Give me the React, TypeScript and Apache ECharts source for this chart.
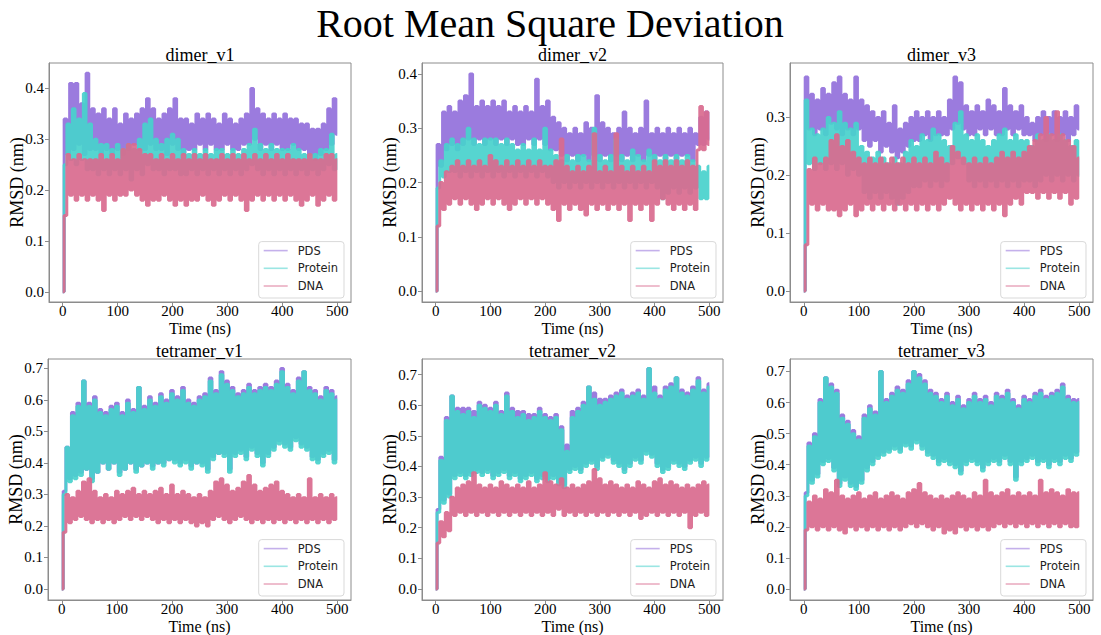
import React, { useEffect, useRef } from "react";
import * as echarts from "echarts";

const T = [0,5,10,15,20,25,30,35,40,45,50,55,60,65,70,75,80,85,90,95,100,105,110,115,120,125,130,135,140,145,150,155,160,165,170,175,180,185,190,195,200,205,210,215,220,225,230,235,240,245,250,255,260,265,270,275,280,285,290,295,300,305,310,315,320,325,330,335,340,345,350,355,360,365,370,375,380,385,390,395,400,405,410,415,420,425,430,435,440,445,450,455,460,465,470,475,480,485,490,495,500];

const X_TICKS = [0, 100, 200, 300, 400, 500];
const Y_TICKS_DIMER = [0, 0.1, 0.2, 0.3, 0.4];
const Y_TICKS_DIMER3 = [0, 0.1, 0.2, 0.3];
const Y_TICKS_TETRA = [0, 0.1, 0.2, 0.3, 0.4, 0.5, 0.6, 0.7];

const SERIES_NAMES = ["PDS", "Protein", "DNA"];
const PANEL_TITLES = ["dimer_v1", "dimer_v2", "dimer_v3", "tetramer_v1", "tetramer_v2", "tetramer_v3"];

// dimer_v1
const d1Pds = [0,
0.34,0.27,0.41,0.28,0.41,0.29,0.37,0.27,0.43,0.28,
0.36,0.28,0.35,0.27,0.36,0.28,0.34,0.27,0.36,0.28,
0.33,0.27,0.35,0.28,0.34,0.29,0.35,0.28,0.36,0.28,
0.38,0.29,0.36,0.28,0.34,0.28,0.35,0.27,0.36,0.29,
0.38,0.28,0.34,0.27,0.34,0.28,0.33,0.28,0.35,0.29,
0.34,0.28,0.35,0.29,0.34,0.28,0.33,0.28,0.35,0.29,
0.34,0.28,0.33,0.28,0.34,0.29,0.35,0.29,0.40,0.30,
0.36,0.28,0.35,0.29,0.34,0.28,0.35,0.29,0.34,0.28,
0.35,0.28,0.34,0.29,0.34,0.28,0.33,0.28,0.33,0.27,
0.32,0.26,0.32,0.27,0.33,0.28,0.36,0.29,0.38,0.31];
const d1Protein = [0,
0.25,0.33,0.26,0.36,0.25,0.34,0.26,0.39,0.24,0.33,
0.24,0.30,0.23,0.29,0.24,0.29,0.23,0.28,0.24,0.29,
0.23,0.28,0.24,0.29,0.22,0.28,0.24,0.30,0.23,0.33,
0.25,0.34,0.24,0.30,0.24,0.29,0.23,0.30,0.24,0.31,
0.24,0.30,0.23,0.28,0.23,0.27,0.24,0.28,0.23,0.27,
0.24,0.28,0.23,0.27,0.24,0.28,0.23,0.28,0.24,0.27,
0.23,0.28,0.24,0.27,0.23,0.28,0.24,0.29,0.25,0.32,
0.24,0.29,0.23,0.28,0.24,0.29,0.23,0.28,0.24,0.28,
0.23,0.28,0.24,0.29,0.23,0.28,0.24,0.27,0.23,0.27,
0.24,0.27,0.23,0.28,0.24,0.28,0.25,0.31,0.24,0.27];
const d1Dna = [0,
0.15,0.27,0.19,0.26,0.18,0.27,0.19,0.26,0.18,0.26,
0.19,0.26,0.18,0.27,0.16,0.26,0.19,0.27,0.18,0.26,
0.19,0.28,0.19,0.29,0.20,0.29,0.19,0.28,0.18,0.27,
0.17,0.27,0.18,0.26,0.18,0.27,0.19,0.26,0.18,0.27,
0.17,0.26,0.18,0.27,0.17,0.26,0.18,0.27,0.18,0.26,
0.19,0.27,0.18,0.26,0.17,0.26,0.18,0.27,0.19,0.26,
0.18,0.27,0.19,0.26,0.18,0.27,0.16,0.26,0.18,0.27,
0.19,0.26,0.18,0.27,0.19,0.26,0.18,0.27,0.19,0.26,
0.18,0.27,0.19,0.26,0.18,0.26,0.17,0.26,0.18,0.27,
0.19,0.26,0.17,0.26,0.18,0.27,0.19,0.27,0.18,0.26];

// dimer_v2
const d2Pds = [0,
0.27,0.23,0.33,0.26,0.34,0.27,0.33,0.26,0.35,0.27,
0.36,0.28,0.40,0.27,0.34,0.28,0.35,0.27,0.34,0.28,
0.35,0.27,0.34,0.28,0.35,0.27,0.33,0.28,0.34,0.27,
0.33,0.27,0.34,0.28,0.33,0.27,0.39,0.28,0.34,0.27,
0.35,0.26,0.32,0.26,0.31,0.25,0.30,0.24,0.29,0.25,
0.30,0.24,0.29,0.25,0.31,0.24,0.30,0.25,0.36,0.24,
0.31,0.25,0.30,0.24,0.29,0.25,0.30,0.24,0.33,0.25,
0.30,0.24,0.29,0.25,0.30,0.24,0.35,0.25,0.29,0.24,
0.30,0.25,0.29,0.24,0.30,0.25,0.29,0.24,0.30,0.25,
0.29,0.25,0.30,0.24,0.29,0.27,0.32,0.27,0.33,0.28];
const d2Protein = [0,
0.19,0.24,0.21,0.27,0.22,0.28,0.22,0.27,0.21,0.28,
0.22,0.30,0.21,0.28,0.22,0.27,0.21,0.28,0.22,0.28,
0.21,0.28,0.22,0.27,0.21,0.28,0.22,0.27,0.21,0.26,
0.22,0.27,0.21,0.26,0.22,0.28,0.21,0.26,0.22,0.30,
0.21,0.26,0.20,0.25,0.19,0.24,0.20,0.25,0.19,0.24,
0.20,0.25,0.19,0.25,0.20,0.24,0.19,0.30,0.20,0.25,
0.19,0.24,0.20,0.25,0.19,0.28,0.20,0.25,0.19,0.24,
0.20,0.26,0.19,0.25,0.20,0.24,0.19,0.26,0.20,0.25,
0.19,0.24,0.17,0.25,0.18,0.24,0.19,0.25,0.18,0.24,
0.19,0.25,0.18,0.24,0.19,0.23,0.17,0.22,0.17,0.23];
const d2Dna = [0,
0.12,0.20,0.15,0.22,0.16,0.23,0.17,0.24,0.16,0.23,
0.17,0.24,0.16,0.23,0.15,0.24,0.16,0.23,0.17,0.25,
0.16,0.24,0.17,0.23,0.16,0.24,0.15,0.23,0.16,0.24,
0.17,0.23,0.16,0.24,0.17,0.23,0.16,0.24,0.17,0.23,
0.16,0.23,0.15,0.24,0.13,0.28,0.16,0.23,0.15,0.22,
0.16,0.23,0.15,0.22,0.14,0.23,0.16,0.29,0.15,0.22,
0.16,0.23,0.15,0.22,0.16,0.29,0.15,0.23,0.16,0.22,
0.13,0.23,0.16,0.22,0.15,0.23,0.16,0.22,0.13,0.24,
0.16,0.23,0.17,0.24,0.16,0.23,0.15,0.24,0.16,0.23,
0.15,0.24,0.16,0.23,0.15,0.26,0.34,0.26,0.33,0.27];

// dimer_v3
const d3Pds = [0,
0.37,0.28,0.34,0.27,0.33,0.28,0.35,0.27,0.34,0.29,
0.36,0.28,0.37,0.27,0.34,0.28,0.33,0.27,0.37,0.28,
0.33,0.26,0.32,0.25,0.31,0.26,0.30,0.24,0.31,0.25,
0.29,0.24,0.32,0.23,0.28,0.24,0.29,0.25,0.30,0.26,
0.31,0.26,0.30,0.27,0.31,0.26,0.30,0.27,0.31,0.27,
0.30,0.27,0.33,0.28,0.37,0.29,0.36,0.28,0.32,0.27,
0.31,0.27,0.32,0.28,0.31,0.27,0.33,0.28,0.32,0.27,
0.31,0.27,0.35,0.28,0.32,0.27,0.31,0.28,0.32,0.27,
0.30,0.27,0.29,0.26,0.30,0.27,0.31,0.26,0.30,0.27,
0.31,0.26,0.30,0.27,0.31,0.26,0.30,0.27,0.32,0.28];
const d3Protein = [0,
0.33,0.22,0.28,0.21,0.27,0.22,0.28,0.21,0.30,0.22,
0.29,0.21,0.31,0.22,0.29,0.20,0.28,0.21,0.29,0.20,
0.25,0.17,0.24,0.16,0.23,0.17,0.24,0.16,0.23,0.17,
0.22,0.16,0.23,0.15,0.22,0.16,0.24,0.17,0.26,0.18,
0.25,0.18,0.27,0.19,0.26,0.18,0.28,0.19,0.27,0.18,
0.26,0.19,0.25,0.22,0.29,0.23,0.31,0.22,0.27,0.19,
0.26,0.18,0.27,0.19,0.26,0.18,0.25,0.19,0.26,0.18,
0.27,0.19,0.28,0.18,0.26,0.19,0.27,0.18,0.26,0.19,
0.26,0.19,0.25,0.18,0.27,0.19,0.26,0.20,0.27,0.19,
0.26,0.20,0.27,0.19,0.26,0.20,0.25,0.19,0.26,0.20];
const d3Dna = [0,
0.08,0.21,0.15,0.23,0.14,0.22,0.15,0.23,0.14,0.26,
0.14,0.27,0.13,0.25,0.14,0.26,0.15,0.24,0.13,0.23,
0.14,0.22,0.15,0.23,0.14,0.22,0.15,0.23,0.14,0.22,
0.15,0.23,0.14,0.22,0.15,0.23,0.14,0.22,0.15,0.23,
0.14,0.22,0.15,0.23,0.14,0.22,0.15,0.24,0.14,0.23,
0.15,0.22,0.16,0.25,0.15,0.24,0.14,0.23,0.15,0.22,
0.14,0.23,0.15,0.22,0.14,0.23,0.15,0.22,0.14,0.23,
0.15,0.24,0.13,0.23,0.15,0.24,0.16,0.23,0.15,0.24,
0.17,0.25,0.17,0.26,0.16,0.27,0.17,0.30,0.16,0.27,
0.17,0.31,0.16,0.27,0.17,0.26,0.15,0.25,0.16,0.23];

// tetramer_v1
const t1Pds = [0,
0.31,0.45,0.35,0.56,0.36,0.59,0.37,0.66,0.38,0.59,
0.35,0.61,0.37,0.57,0.40,0.56,0.38,0.58,0.40,0.59,
0.37,0.56,0.38,0.60,0.40,0.57,0.38,0.64,0.39,0.58,
0.40,0.61,0.39,0.59,0.40,0.62,0.40,0.60,0.41,0.63,
0.41,0.61,0.40,0.64,0.41,0.60,0.39,0.59,0.40,0.61,
0.40,0.62,0.38,0.67,0.42,0.63,0.43,0.69,0.43,0.66,
0.38,0.64,0.43,0.62,0.44,0.63,0.42,0.65,0.45,0.63,
0.43,0.64,0.40,0.65,0.43,0.64,0.45,0.66,0.47,0.70,
0.46,0.65,0.45,0.63,0.48,0.67,0.46,0.69,0.45,0.64,
0.42,0.63,0.41,0.61,0.43,0.64,0.44,0.63,0.41,0.61];
const t1Protein = [0,
0.30,0.45,0.34,0.55,0.35,0.58,0.36,0.66,0.38,0.58,
0.34,0.60,0.37,0.56,0.40,0.55,0.38,0.57,0.40,0.58,
0.36,0.55,0.38,0.59,0.40,0.56,0.37,0.64,0.39,0.57,
0.40,0.60,0.38,0.58,0.40,0.61,0.39,0.59,0.41,0.62,
0.40,0.60,0.39,0.63,0.40,0.59,0.38,0.58,0.40,0.60,
0.39,0.61,0.37,0.66,0.41,0.62,0.43,0.68,0.42,0.65,
0.37,0.63,0.42,0.61,0.43,0.62,0.41,0.64,0.44,0.62,
0.42,0.63,0.39,0.64,0.42,0.63,0.44,0.65,0.46,0.69,
0.45,0.64,0.44,0.62,0.47,0.66,0.45,0.69,0.44,0.63,
0.41,0.62,0.40,0.60,0.42,0.63,0.43,0.62,0.40,0.60];
const t1Dna = [0,
0.18,0.30,0.21,0.29,0.22,0.31,0.23,0.34,0.22,0.35,
0.21,0.31,0.22,0.29,0.21,0.30,0.22,0.29,0.21,0.31,
0.22,0.30,0.23,0.31,0.22,0.32,0.23,0.30,0.22,0.31,
0.23,0.30,0.22,0.31,0.21,0.32,0.22,0.30,0.21,0.33,
0.22,0.30,0.21,0.31,0.22,0.30,0.21,0.29,0.20,0.30,
0.21,0.29,0.20,0.31,0.22,0.34,0.23,0.35,0.22,0.33,
0.21,0.31,0.22,0.32,0.23,0.34,0.22,0.36,0.21,0.33,
0.22,0.31,0.21,0.32,0.22,0.33,0.21,0.34,0.22,0.31,
0.21,0.30,0.22,0.29,0.21,0.30,0.22,0.29,0.21,0.35,
0.22,0.29,0.21,0.30,0.22,0.29,0.21,0.30,0.22,0.29];

// tetramer_v2
const t2Pds = [0,
0.26,0.43,0.29,0.56,0.31,0.63,0.37,0.59,0.38,0.59,
0.37,0.59,0.38,0.58,0.39,0.61,0.38,0.60,0.39,0.59,
0.37,0.61,0.38,0.58,0.39,0.64,0.37,0.59,0.38,0.58,
0.36,0.58,0.37,0.57,0.38,0.57,0.36,0.59,0.37,0.57,
0.36,0.56,0.37,0.57,0.35,0.53,0.34,0.47,0.39,0.58,
0.40,0.59,0.39,0.61,0.41,0.66,0.42,0.64,0.40,0.62,
0.43,0.62,0.44,0.63,0.42,0.64,0.41,0.65,0.39,0.63,
0.41,0.64,0.43,0.65,0.42,0.63,0.45,0.72,0.44,0.66,
0.41,0.63,0.39,0.66,0.40,0.67,0.42,0.69,0.41,0.65,
0.40,0.64,0.42,0.66,0.43,0.69,0.41,0.65,0.43,0.67];
const t2Protein = [0,
0.25,0.42,0.28,0.55,0.30,0.63,0.36,0.58,0.37,0.57,
0.36,0.58,0.37,0.56,0.38,0.60,0.37,0.59,0.38,0.58,
0.36,0.60,0.37,0.57,0.38,0.63,0.36,0.58,0.37,0.56,
0.35,0.57,0.36,0.55,0.37,0.56,0.35,0.58,0.36,0.56,
0.35,0.55,0.36,0.56,0.34,0.52,0.33,0.45,0.38,0.56,
0.39,0.58,0.38,0.60,0.40,0.66,0.41,0.62,0.39,0.60,
0.42,0.61,0.43,0.62,0.41,0.63,0.40,0.64,0.38,0.62,
0.40,0.63,0.42,0.64,0.41,0.62,0.44,0.72,0.43,0.64,
0.40,0.62,0.38,0.65,0.39,0.66,0.41,0.69,0.40,0.64,
0.39,0.63,0.41,0.65,0.42,0.68,0.40,0.64,0.42,0.66];
const t2Dna = [0,
0.15,0.22,0.17,0.25,0.19,0.30,0.24,0.33,0.25,0.34,
0.24,0.35,0.25,0.38,0.24,0.34,0.25,0.33,0.24,0.34,
0.25,0.33,0.24,0.35,0.25,0.34,0.24,0.33,0.25,0.34,
0.24,0.33,0.25,0.35,0.24,0.33,0.25,0.34,0.24,0.38,
0.25,0.35,0.24,0.34,0.26,0.36,0.24,0.33,0.25,0.34,
0.24,0.33,0.25,0.34,0.24,0.35,0.25,0.39,0.24,0.36,
0.25,0.34,0.24,0.35,0.25,0.34,0.24,0.33,0.25,0.34,
0.24,0.33,0.25,0.35,0.23,0.34,0.24,0.33,0.25,0.35,
0.24,0.36,0.25,0.34,0.24,0.35,0.25,0.34,0.24,0.33,
0.25,0.34,0.20,0.33,0.24,0.34,0.25,0.35,0.24,0.34];

// tetramer_v3
const t3Pds = [0,
0.31,0.47,0.35,0.50,0.37,0.61,0.41,0.68,0.42,0.66,
0.39,0.64,0.34,0.56,0.36,0.54,0.34,0.51,0.33,0.49,
0.35,0.56,0.39,0.59,0.41,0.57,0.43,0.70,0.44,0.61,
0.45,0.63,0.46,0.65,0.45,0.64,0.47,0.67,0.46,0.70,
0.48,0.69,0.46,0.67,0.44,0.64,0.43,0.63,0.41,0.61,
0.42,0.63,0.41,0.60,0.40,0.62,0.38,0.59,0.41,0.61,
0.42,0.63,0.41,0.61,0.39,0.62,0.41,0.60,0.42,0.63,
0.41,0.62,0.43,0.64,0.41,0.61,0.36,0.59,0.41,0.62,
0.42,0.61,0.43,0.63,0.41,0.64,0.42,0.62,0.40,0.63,
0.42,0.64,0.41,0.66,0.43,0.62,0.42,0.61,0.44,0.61];
const t3Protein = [0,
0.30,0.46,0.34,0.49,0.36,0.60,0.40,0.68,0.41,0.65,
0.38,0.63,0.33,0.55,0.35,0.53,0.33,0.50,0.32,0.48,
0.34,0.55,0.38,0.58,0.40,0.56,0.42,0.70,0.43,0.60,
0.44,0.62,0.45,0.64,0.44,0.63,0.46,0.66,0.45,0.70,
0.47,0.68,0.45,0.66,0.43,0.63,0.42,0.62,0.40,0.60,
0.41,0.62,0.40,0.59,0.39,0.61,0.37,0.58,0.40,0.60,
0.41,0.62,0.40,0.60,0.38,0.61,0.40,0.59,0.41,0.62,
0.40,0.61,0.42,0.63,0.40,0.60,0.35,0.58,0.40,0.61,
0.41,0.60,0.42,0.62,0.40,0.63,0.41,0.61,0.39,0.62,
0.41,0.63,0.40,0.65,0.42,0.61,0.41,0.60,0.43,0.60];
const t3Dna = [0,
0.19,0.28,0.20,0.30,0.19,0.29,0.20,0.32,0.19,0.31,
0.20,0.35,0.19,0.30,0.18,0.29,0.20,0.30,0.19,0.31,
0.20,0.29,0.19,0.30,0.20,0.31,0.19,0.29,0.20,0.30,
0.19,0.31,0.20,0.30,0.19,0.29,0.20,0.31,0.21,0.32,
0.20,0.34,0.21,0.31,0.20,0.30,0.19,0.29,0.20,0.30,
0.18,0.29,0.19,0.30,0.18,0.31,0.20,0.30,0.19,0.29,
0.20,0.31,0.19,0.30,0.20,0.35,0.19,0.31,0.20,0.30,
0.21,0.31,0.20,0.32,0.21,0.30,0.20,0.31,0.21,0.30,
0.20,0.31,0.21,0.30,0.20,0.35,0.21,0.31,0.20,0.32,
0.21,0.31,0.20,0.30,0.21,0.32,0.20,0.31,0.20,0.31];

const PANEL_SERIES = [
  [d1Pds, d1Protein, d1Dna],
  [d2Pds, d2Protein, d2Dna],
  [d3Pds, d3Protein, d3Dna],
  [t1Pds, t1Protein, t1Dna],
  [t2Pds, t2Protein, t2Dna],
  [t3Pds, t3Protein, t3Dna],
];
const PANEL_YTICKS = [Y_TICKS_DIMER, Y_TICKS_DIMER, Y_TICKS_DIMER3, Y_TICKS_TETRA, Y_TICKS_TETRA, Y_TICKS_TETRA];

// layout (pixels) and axis extents
const LAYOUT = [
  { left: 49, top: 63, width: 302, height: 239, ymin: -0.02, ymax: 0.45 },
  { left: 422, top: 63, width: 301, height: 239, ymin: -0.02, ymax: 0.42 },
  { left: 790, top: 63, width: 303, height: 239, ymin: -0.019, ymax: 0.394 },
  { left: 48, top: 359, width: 303, height: 241, ymin: -0.035, ymax: 0.73 },
  { left: 422, top: 359, width: 301, height: 241, ymin: -0.036, ymax: 0.751 },
  { left: 790, top: 359, width: 303, height: 241, ymin: -0.035, ymax: 0.74 },
];

const COLORS = ["#9370DB", "#48D1CC", "#D96A8E"];
const SERIF = "Liberation Serif";
const SANS = "DejaVu Sans";
const FRAME = "#8c8c8c";

export default function App() {
  const ref = useRef<HTMLDivElement>(null);
  useEffect(() => {
    if (!ref.current) return;
    const chart = echarts.init(ref.current, undefined, { renderer: "svg" });
    const grids: any[] = [];
    const xAxes: any[] = [];
    const yAxes: any[] = [];
    const series: any[] = [];
    const legends: any[] = [];
    const titles: any[] = [
      {
        text: "Root Mean Square Deviation",
        left: 550,
        top: 3,
        textAlign: "center",
        padding: 0,
        textStyle: { fontFamily: SERIF, fontSize: 40, lineHeight: 40, fontWeight: "normal", color: "#000" },
      },
    ];
    LAYOUT.forEach((g, i) => {
      grids.push({
        left: g.left, top: g.top, width: g.width, height: g.height,
        show: true, borderColor: FRAME, borderWidth: 1, backgroundColor: "#fff",
      });
      xAxes.push({
        type: "value", gridIndex: i, min: -25, max: 525,
        axisLine: { show: true, onZero: false, lineStyle: { color: FRAME } },
        axisTick: { show: true, length: 4, customValues: X_TICKS, lineStyle: { color: FRAME } },
        axisLabel: { customValues: X_TICKS, fontFamily: SERIF, fontSize: 15, lineHeight: 13, color: "#000", margin: 2,
          formatter: (v: number) => String(v) },
        splitLine: { show: false },
        name: "Time (ns)", nameLocation: "middle", nameGap: 18, nameMoveOverlap: false,
        nameTextStyle: { fontFamily: SERIF, fontSize: 16, lineHeight: 16, color: "#000" },
      });
      yAxes.push({
        type: "value", gridIndex: i, min: g.ymin, max: g.ymax,
        axisLine: { show: true, onZero: false, lineStyle: { color: FRAME } },
        axisTick: { show: true, length: 4, customValues: PANEL_YTICKS[i], lineStyle: { color: FRAME } },
        axisLabel: { customValues: PANEL_YTICKS[i], fontFamily: SERIF, fontSize: 15, color: "#000", margin: 5,
          formatter: (v: number) => v.toFixed(1) },
        splitLine: { show: false },
        name: "RMSD (nm)", nameLocation: "middle", nameGap: 23, nameMoveOverlap: false,
        nameTextStyle: { fontFamily: SERIF, fontSize: 18, lineHeight: 18, color: "#000" },
      });
      PANEL_SERIES[i].forEach((arr, k) => {
        series.push({
          type: "line", name: SERIES_NAMES[k], xAxisIndex: i, yAxisIndex: i,
          data: T.map((t, j) => [t, arr[j]]),
          step: "middle",
          symbol: "none", showSymbol: false, silent: true,
          lineStyle: { width: 2.9, color: COLORS[k], opacity: 0.92, join: "bevel" },
          itemStyle: { color: COLORS[k] },
          z: 2 + k,
        });
      });
      titles.push({
        text: PANEL_TITLES[i],
        left: g.left + g.width / 2,
        top: g.top - 17.5,
        textAlign: "center",
        padding: 0,
        textStyle: { fontFamily: SERIF, fontSize: 18, lineHeight: 18, fontWeight: "normal", color: "#000" },
      });
      legends.push({
        data: SERIES_NAMES,
        orient: "vertical",
        right: 1101 - (g.left + g.width - 7),
        bottom: 635 - (g.top + g.height - 4),
        icon: "rect",
        itemWidth: 24,
        itemHeight: 1.6,
        itemGap: 3.7,
        padding: [2, 6, 5, 5],
        borderColor: "#d9d9d9",
        borderWidth: 1,
        borderRadius: 3,
        backgroundColor: "rgba(255,255,255,0.85)",
        selectedMode: false,
        itemStyle: { opacity: 0.55 },
        textStyle: { fontFamily: SANS, fontSize: 11.5, color: "#222", padding: [0, 0, 0, 5], lineHeight: 14, height: 14 },
      });
    });
    chart.setOption({
      animation: false,
      backgroundColor: "#fff",
      textStyle: { fontFamily: SERIF },
      title: titles,
      grid: grids,
      xAxis: xAxes,
      yAxis: yAxes,
      legend: legends,
      series,
    });
    return () => chart.dispose();
  }, []);
  return <div ref={ref} style={{ position: "absolute", left: 0, top: 0, width: 1101, height: 635 }} />;
}
